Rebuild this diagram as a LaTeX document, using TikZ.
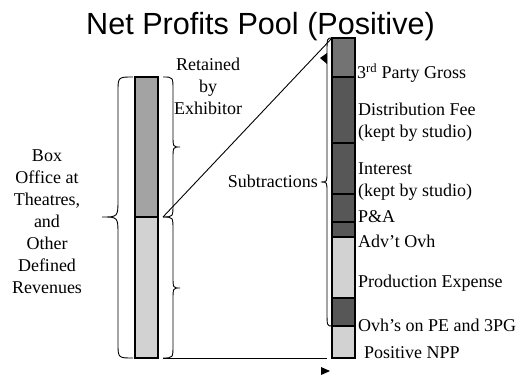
\documentclass[tikz,border=0pt]{standalone}
\usepackage{fontspec}
\setmainfont{Liberation Serif}
\newfontfamily\titlefont{Liberation Sans}
\usepackage{tikz}

\definecolor{grossgray}{HTML}{737373}
\definecolor{subgray}{HTML}{575757}
\definecolor{midgray}{HTML}{A3A3A3}
\definecolor{palegray}{HTML}{D2D2D2}

\tikzset{
  bar/.style={draw=black, line width=1.2pt},
  lbl/.style={inner sep=0pt, font=\fontsize{18}{22}\selectfont},
  curly/.style={line width=0.9pt}
}

\begin{document}
\begin{tikzpicture}[x=1pt, y=-1pt]
\useasboundingbox (0,0) rectangle (527,377);

\node [anchor=base, inner sep=0pt, font=\titlefont\fontsize{30.6}{36}\selectfont] (title) at (260.5,35) {Net Profits Pool (Positive)};

% left bar
\draw [bar, fill=midgray] (135,77) rectangle (158,217);
\draw [bar, fill=palegray] (135,217) rectangle (158,358);

% right bar
\draw [bar, fill=grossgray] (332,38) rectangle (355,77);
\draw [bar, fill=subgray] (332,77) rectangle (355,143);
\draw [bar, fill=subgray] (332,143) rectangle (355,194);
\draw [bar, fill=subgray] (332,194) rectangle (355,222);
\draw [bar, fill=subgray] (332,222) rectangle (355,237);
\draw [bar, fill=palegray] (332,237) rectangle (355,298);
\draw [bar, fill=subgray] (332,298) rectangle (355,326);
\draw [bar, fill=palegray] (332,326) rectangle (355,358);

% braces
\draw [curly] (133,77) .. controls (118,77) .. (118,92) -- (118,199) .. controls (118,217) .. (102,217)
  .. controls (118,217) .. (118,235) -- (118,343) .. controls (118,358) .. (133,358);
\draw [curly] (163,77) .. controls (173,77) .. (173,90) -- (173,135) .. controls (173,147) .. (180,147)
  .. controls (173,147) .. (173,159) -- (173,204) .. controls (173,217) .. (163,217);
\draw [curly] (163,217) .. controls (173,217) .. (173,230) -- (173,276) .. controls (173,288) .. (180,288)
  .. controls (173,288) .. (173,300) -- (173,345) .. controls (173,358) .. (163,358);
\draw [curly] (332,38) .. controls (327,38) .. (327,53) -- (327,172) .. controls (327,182) .. (321,182)
  .. controls (327,182) .. (327,192) -- (327,311) .. controls (327,326) .. (332,326);

% connectors
\coordinate (split) at (163,217);
\coordinate (pooltop) at (332,38);
\coordinate (lowend) at (163,358);
\coordinate (poolfoot) at (327,358);
\draw [line width=0.9pt] (split) -- (pooltop);
\draw [line width=0.9pt] (lowend) -- (poolfoot);
\fill (320,58) -- (327,53) -- (327,64) -- cycle;
\fill (321,367) -- (330,371) -- (321,375) -- cycle;

% labels
\node [lbl, align=center, anchor=north] (revenues) at (47,150) {Box\\Office at\\Theatres,\\and\\Other\\Defined\\Revenues};
\node [lbl, align=center, anchor=north] (retained) at (208,58) {Retained\\by\\Exhibitor};
\node [lbl, anchor=base east] (subtractions) at (318,187.5) {Subtractions};

\node [lbl, anchor=base west] (gross) at (357,78.5) {3\textsuperscript{rd} Party Gross};
\node [lbl, align=left, anchor=north west] (distfee) at (358,103) {Distribution Fee\\(kept by studio)};
\node [lbl, align=left, anchor=north west] (interest) at (358,163) {Interest\\(kept by studio)};
\node [lbl, anchor=base west] (pa) at (358,222.5) {P\&A};
\node [lbl, anchor=base west] (advt) at (358,247.5) {Adv't Ovh};
\node [lbl, anchor=base west] (prodexp) at (358,287.5) {Production Expense};
\node [lbl, anchor=base west] (ovh) at (358,331) {Ovh's on PE and 3PG};
\node [lbl, anchor=base west] (npp) at (364,358.5) {Positive NPP};

\end{tikzpicture}
\end{document}
